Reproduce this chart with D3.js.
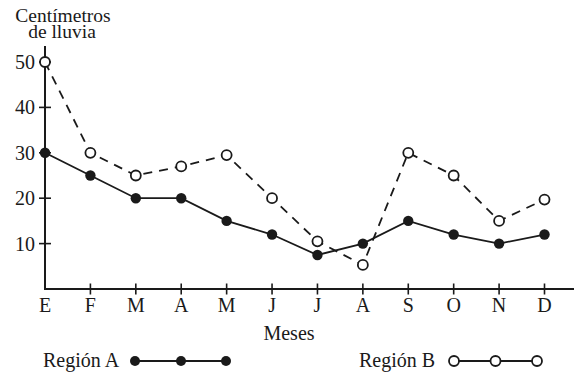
<!DOCTYPE html>
<html><head><meta charset="utf-8">
<script src="https://cdn.jsdelivr.net/npm/d3@7"></script>
<style>body{margin:0;background:#fff}svg{display:block}</style>
</head><body>
<svg id="c" width="578" height="372"></svg>
<script>
const months = ["E","F","M","A","M","J","J","A","S","O","N","D"];
const regionA = [30,25,20,20,15,12,7.5,10,15,12,10,12];
const regionB = [50,30,25,27,29.5,20,10.5,5.3,30,25,15,19.7];
const yTicks = [10,20,30,40,50];
const seriesNames = ["Región A","Región B"];

const FONT = "'Liberation Serif', Tinos, 'Times New Roman', serif";
const svg = d3.select("#c");
const ink = "#1a1a1a";
const x = d3.scaleLinear().domain([0,11]).range([45,544.5]);
const y = d3.scaleLinear().domain([0,50]).range([289,62]);

function txt(){ return svg.append("text").style("font-family",FONT).attr("fill",ink); }

// axes
svg.append("line").attr("x1",45).attr("x2",45).attr("y1",46).attr("y2",289).attr("stroke",ink).attr("stroke-width",2);
svg.append("line").attr("x1",44).attr("x2",574).attr("y1",289).attr("y2",289).attr("stroke",ink).attr("stroke-width",2);

svg.selectAll(".yt").data(yTicks).join("line").attr("x1",39).attr("x2",51)
  .attr("y1",d=>y(d)).attr("y2",d=>y(d)).attr("stroke",ink).attr("stroke-width",1.6);
svg.selectAll(".yl").data(yTicks).join("text").style("font-family",FONT).attr("fill",ink)
  .attr("x",35).attr("y",d=>y(d)).attr("dy","0.35em")
  .attr("text-anchor","end").attr("font-size",20).text(d=>d);

svg.selectAll(".xt").data(months.slice(1)).join("line").attr("x1",(d,i)=>x(i+1)).attr("x2",(d,i)=>x(i+1))
  .attr("y1",283.5).attr("y2",294.5).attr("stroke",ink).attr("stroke-width",1.6);
svg.selectAll(".xl").data(months).join("text").style("font-family",FONT).attr("fill",ink)
  .attr("x",(d,i)=>x(i)).attr("y",312)
  .attr("text-anchor","middle").attr("font-size",20).text(d=>d);

txt().attr("x",63).attr("y",22).attr("text-anchor","middle").attr("font-size",19.5).text("Centímetros");
txt().attr("x",62).attr("y",38).attr("text-anchor","middle").attr("font-size",19.5).text("de lluvia");
txt().attr("x",289).attr("y",340).attr("text-anchor","middle").attr("font-size",20).text("Meses");

const line = d3.line().x((d,i)=>x(i)).y(d=>y(d));
svg.append("path").datum(regionB).attr("d",line).attr("fill","none").attr("stroke",ink)
  .attr("stroke-width",1.8).attr("stroke-dasharray","9,7");
svg.append("path").datum(regionA).attr("d",line).attr("fill","none").attr("stroke",ink).attr("stroke-width",1.8);

svg.selectAll(".pb").data(regionB).join("circle").attr("cx",(d,i)=>x(i)).attr("cy",d=>y(d)).attr("r",5)
  .attr("fill","#fff").attr("stroke",ink).attr("stroke-width",1.8);
svg.selectAll(".pa").data(regionA).join("circle").attr("cx",(d,i)=>x(i)).attr("cy",d=>y(d)).attr("r",5.2)
  .attr("fill",ink);

// legend
const legend = [
  {name:seriesNames[0], tx:43, xs:[135,181,226], filled:true},
  {name:seriesNames[1], tx:359, xs:[454,495.5,537], filled:false}
];
legend.forEach(l=>{
  txt().attr("x",l.tx).attr("y",367).attr("font-size",20).text(l.name);
  svg.append("line").attr("x1",l.xs[0]).attr("x2",l.xs[2]).attr("y1",361).attr("y2",361).attr("stroke",ink).attr("stroke-width",1.8);
  svg.selectAll(null).data(l.xs).join("circle").attr("cx",d=>d).attr("cy",361).attr("r",5)
    .attr("fill",l.filled?ink:"#fff").attr("stroke",ink).attr("stroke-width",l.filled?0:1.8);
});
</script>
</body></html>
